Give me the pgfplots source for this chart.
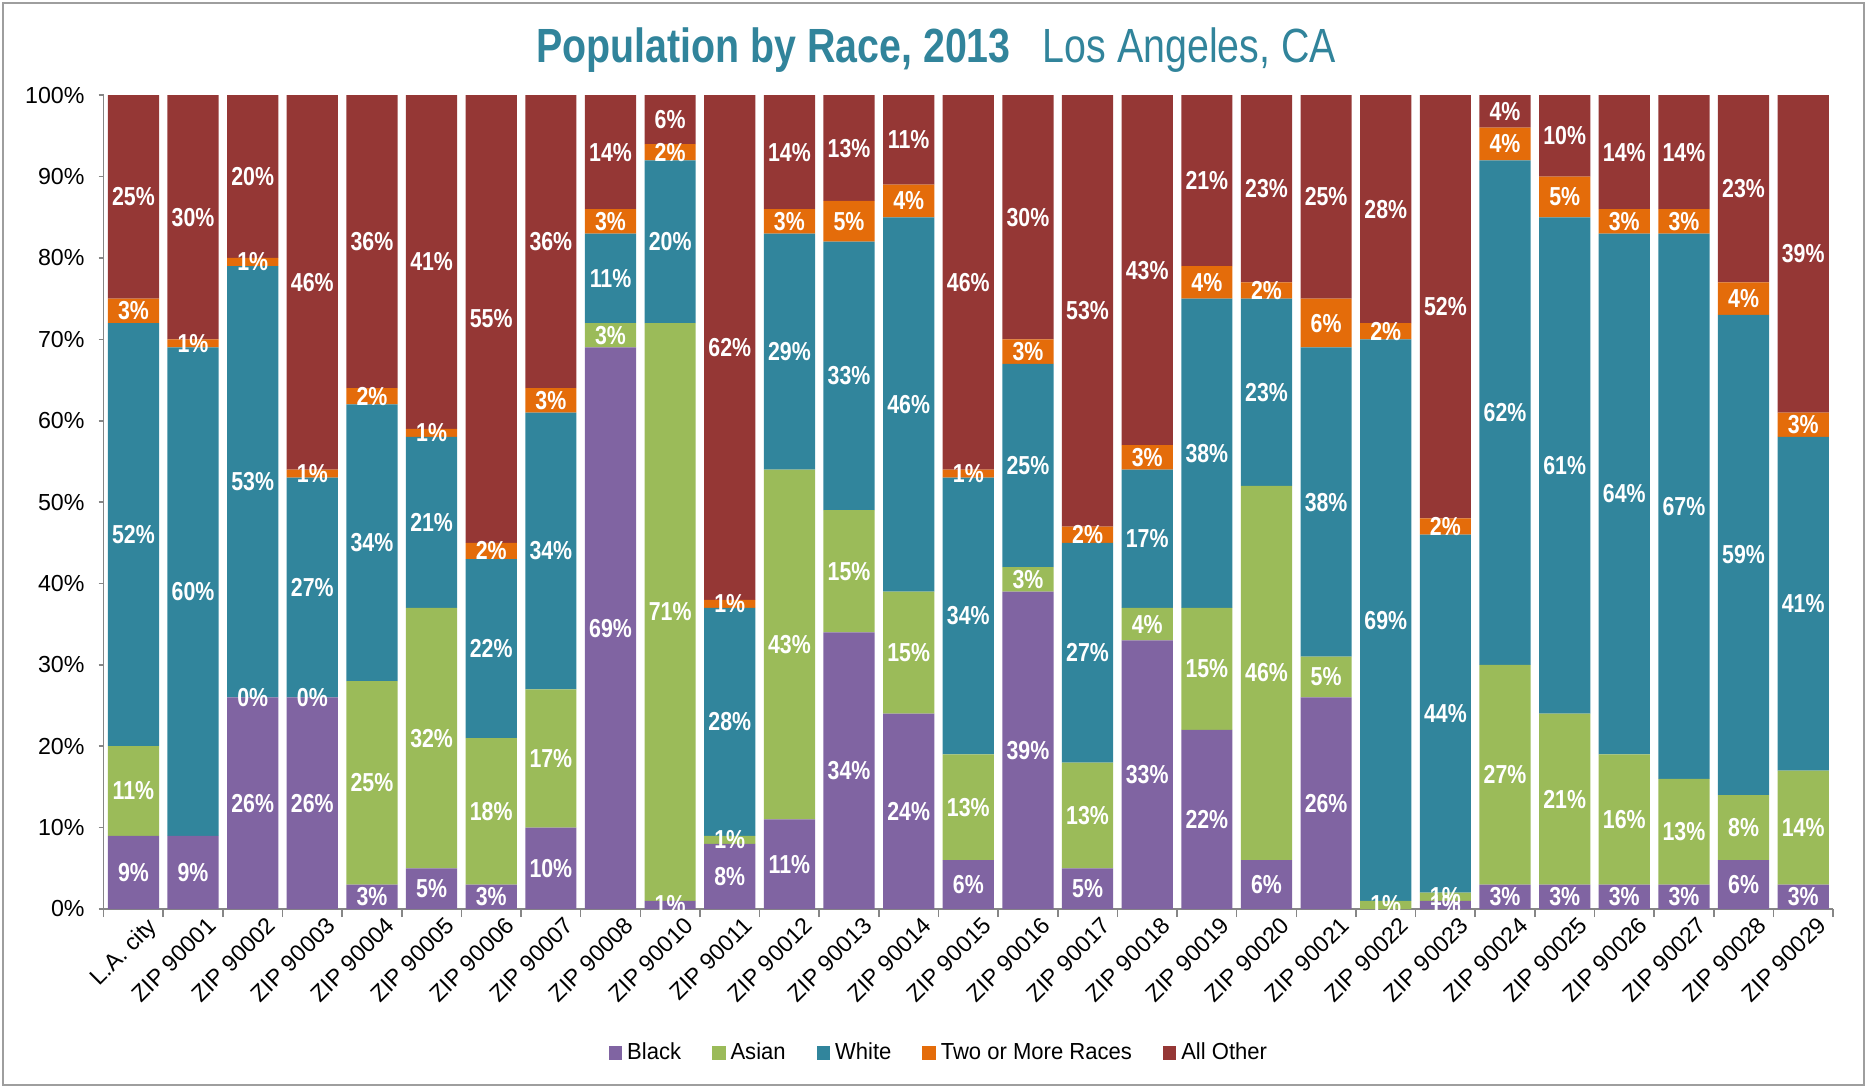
\documentclass[border=0pt]{standalone}
\usepackage{pgfplots}
\pgfplotsset{compat=1.18}
\usepackage{pgfplotstable}
\usepackage{fontspec}
\setmainfont{Liberation Sans}
\newfontfamily\narrow{Liberation Sans}[FakeStretch=0.82]
\newfontfamily\legfont{Liberation Sans}[FakeStretch=0.95]
\definecolor{cBlack}{HTML}{8064A2}
\definecolor{cAsian}{HTML}{9BBB59}
\definecolor{cWhite}{HTML}{31859C}
\definecolor{cTwo}{HTML}{E46C0A}
\definecolor{cOther}{HTML}{953735}
\definecolor{cTitle}{HTML}{31849B}
\definecolor{cAxis}{HTML}{868686}

\pgfplotstableread{
x black asian white two other lblack lasian
0 9 11 52 3 25 9 11
1 9 0 60 1 30 9 -1
2 26 0 53 1 20 26 0
3 26 0 27 1 46 26 0
4 3 25 34 2 36 3 25
5 5 32 21 1 41 5 32
6 3 18 22 2 55 3 18
7 10 17 34 3 36 10 17
8 69 3 11 3 14 69 3
9 1 71 20 2 6 1 71
10 8 1 28 1 62 8 1
11 11 43 29 3 14 11 43
12 34 15 33 5 13 34 15
13 24 15 46 4 11 24 15
14 6 13 34 1 46 6 13
15 39 3 25 3 30 39 3
16 5 13 27 2 53 5 13
17 33 4 17 3 43 33 4
18 22 15 38 4 21 22 15
19 6 46 23 2 23 6 46
20 26 5 38 6 25 26 5
21 0 1 69 2 28 -1 1
22 1 1 44 2 52 1 1
23 3 27 62 4 4 3 27
24 3 21 61 5 10 3 21
25 3 16 64 3 14 3 16
26 3 13 67 3 14 3 13
27 6 8 59 4 23 6 8
28 3 14 41 3 39 3 14
}\data

\pgfplotsset{
  seg/.style={draw=none,
    legend image code/.code={\fill[##1] (0pt,-3.35pt) rectangle (6.7pt,3.35pt);},
  },
  geom/.style={
    at={(51.8pt,89.5pt)}, anchor=south west,
    scale only axis, width=864.7pt, height=406.9pt,
    xmin=-0.5, xmax=28.5, ymin=0, ymax=100,
    enlargelimits=false,
  },
  lab/.style={draw=none, mark=none, point meta=explicit symbolic,
    nodes near coords={\ifnum\pgfplotspointmeta<0 \else\pgfplotspointmeta\%\fi},
    nodes near coords align=center,
    every node near coord/.append style={font=\narrow\bfseries\fontsize{13}{15}\selectfont, text=white, inner sep=0pt, anchor=center},
  },
}

\begin{document}
\begin{tikzpicture}
\useasboundingbox (0,0) rectangle (934pt,544pt);
\draw[cAxis!80, line width=1.2pt] (1.5pt,1.5pt) rectangle (932pt,542.5pt);
\node[text=cTitle, font=\narrow\fontsize{24}{28}\selectfont] at (468pt,519pt)
  {{\bfseries Population by Race, 2013}\hspace{16pt}Los Angeles, CA};
\begin{axis}[
  geom,
  ybar stacked, bar width=25.6pt,
  axis x line*=bottom, axis y line*=left,
  axis line style={draw=cAxis, line width=0.8pt, -},
  tick align=outside,
  xtick={0,...,28},
  xticklabels={L.A. city, ZIP 90001, ZIP 90002, ZIP 90003, ZIP 90004, ZIP 90005, ZIP 90006, ZIP 90007, ZIP 90008, ZIP 90010, ZIP 90011, ZIP 90012, ZIP 90013, ZIP 90014, ZIP 90015, ZIP 90016, ZIP 90017, ZIP 90018, ZIP 90019, ZIP 90020, ZIP 90021, ZIP 90022, ZIP 90023, ZIP 90024, ZIP 90025, ZIP 90026, ZIP 90027, ZIP 90028, ZIP 90029},
  minor xtick={-0.5,0.5,...,28.5},
  major x tick style={draw=none},
  minor x tick style={draw=cAxis, line width=0.8pt},
  minor tick length=4pt,
  major tick length=2.5pt,
  y tick style={draw=cAxis, line width=0.8pt},
  ytick={0,10,...,100},
  yticklabels={0\%,10\%,20\%,30\%,40\%,50\%,60\%,70\%,80\%,90\%,100\%},
  tick label style={font=\fontsize{11.6}{13}\selectfont, text=black},
  yticklabel style={xshift=-3.5pt},
  xticklabel style={rotate=45, anchor=north east, inner sep=1pt, xshift=5pt, yshift=-4pt},
  legend style={at={(0.4836,-0.177)}, anchor=center, draw=none, fill=none,
    legend columns=-1, font=\legfont\fontsize{11.6}{13}\selectfont,
    /tikz/every even column/.append style={column sep=13.5pt},
    /tikz/every odd column/.append style={column sep=0.5pt}},
  legend cell align=left,
]
\addplot[seg, fill=cBlack] table[x=x, y=black] {\data};
\addplot[seg, fill=cAsian] table[x=x, y=asian] {\data};
\addplot[seg, fill=cWhite] table[x=x, y=white] {\data};
\addplot[seg, fill=cTwo] table[x=x, y=two] {\data};
\addplot[seg, fill=cOther] table[x=x, y=other] {\data};
\legend{Black, Asian, White, Two or More Races, All Other}
\end{axis}
\begin{axis}[geom, hide axis]
\addplot[lab] table[x=x, y expr=\thisrow{black}/2, meta=lblack] {\data};
\addplot[lab] table[x=x, y expr=\thisrow{black}+\thisrow{asian}/2, meta=lasian] {\data};
\addplot[lab] table[x=x, y expr=\thisrow{black}+\thisrow{asian}+\thisrow{white}/2, meta=white] {\data};
\addplot[lab] table[x=x, y expr=\thisrow{black}+\thisrow{asian}+\thisrow{white}+\thisrow{two}/2, meta=two] {\data};
\addplot[lab] table[x=x, y expr=100-\thisrow{other}/2, meta=other] {\data};
\end{axis}
\end{tikzpicture}
\end{document}
